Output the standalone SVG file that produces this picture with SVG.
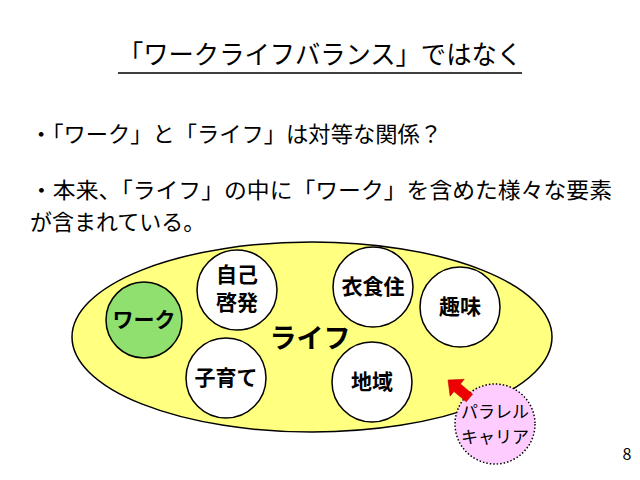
<svg xmlns="http://www.w3.org/2000/svg" width="640" height="480" viewBox="0 0 640 480">
<style>
text{font-family:"Noto Sans CJK JP","Noto Sans",sans-serif;fill:#000}
.c{fill:#fff;stroke:#000;stroke-width:1.5}
.l{font-size:21px;font-weight:bold;text-anchor:middle}
.b{font-size:22px}
</style>
<rect width="640" height="480" fill="#fff"/>
<text x="118" y="64" font-size="26" textLength="404" lengthAdjust="spacingAndGlyphs">「ワークライフバランス」ではなく</text>
<line x1="118" y1="73" x2="522" y2="73" stroke="#000" stroke-width="1.5"/>
<text class="b" x="30" y="142" textLength="412" lengthAdjust="spacingAndGlyphs">・「ワーク」と「ライフ」は対等な関係？</text>
<text class="b" x="30" y="198" textLength="582" lengthAdjust="spacingAndGlyphs">・本来、「ライフ」の中に「ワーク」を含めた様々な要素</text>
<text class="b" x="30" y="230">が含まれている。</text>
<g id="life"><ellipse cx="312" cy="337" rx="240" ry="95" fill="#ffff80" stroke="#000" stroke-width="1.5"/>
<text x="310" y="348" font-size="27" font-weight="bold" text-anchor="middle">ライフ</text></g>
<g id="work"><circle cx="144" cy="320" r="38" fill="#8fe06e" stroke="#000" stroke-width="1.5"/><text class="l" x="144" y="327" font-weight="normal">ワーク</text></g>
<g id="jiko"><circle class="c" cx="237" cy="290" r="40"/><text class="l" x="237" y="282" font-size="20">自己</text><text class="l" x="237" y="310" font-size="20">啓発</text></g>
<g id="kosodate"><circle class="c" cx="226" cy="378" r="40"/><text class="l" x="226" y="385">子育て</text></g>
<g id="ishokuju"><circle class="c" cx="373" cy="287" r="40"/><text class="l" x="373" y="294">衣食住</text></g>
<g id="shumi"><circle class="c" cx="460" cy="307" r="40"/><text class="l" x="460" y="314">趣味</text></g>
<g id="chiiki"><circle class="c" cx="372" cy="382" r="40"/><text class="l" x="372" y="389">地域</text></g>
<g id="parallel"><circle cx="495" cy="424" r="40" fill="#ffccff" stroke="#000" stroke-width="1.5" stroke-dasharray="1.5 2"/>
<text x="495" y="418" font-size="17" text-anchor="middle">パラレル</text><text x="495" y="443" font-size="17" text-anchor="middle">キャリア</text></g>
<g id="connectors"><polygon transform="translate(448,380) rotate(40)" points="0,0 12,-11 12,-5 28,-5 28,5 12,5 12,11" fill="#e00" stroke="#b00" stroke-width="0.5"/></g>
<text x="627" y="460" font-size="16" text-anchor="middle" font-family="Liberation Sans,sans-serif">8</text>
</svg>
